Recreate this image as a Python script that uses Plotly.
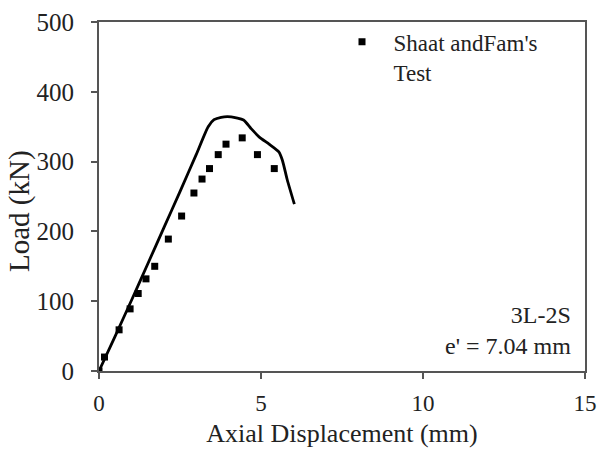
import plotly.graph_objects as go

# Test data (Shaat and Fam)
test_x = [0.0, 0.17, 0.62, 0.96, 1.21, 1.45, 1.72, 2.14, 2.55, 2.93, 3.18, 3.41, 3.68, 3.92, 4.42, 4.89, 5.41]
test_y = [0, 20, 59, 89, 111, 132, 150, 189, 222, 255, 275, 290, 310, 325, 334, 310, 290]

# Model curve
model_x = [0.0, 0.5, 1.0, 1.5, 2.0, 2.5, 3.0, 3.37, 3.55, 3.77, 4.08, 4.46, 4.69, 4.94, 5.25, 5.55, 5.66, 5.81, 6.03]
model_y = [0, 50, 101, 153, 205, 257, 310, 350, 360, 363.5, 364, 359.5, 347.5, 335.5, 325, 314, 302, 274, 239]

x_ticks = [0, 5, 10, 15]
y_ticks = [0, 100, 200, 300, 400, 500]

FONT = "Liberation Serif"
NB = "\u00a0\u00a0"

L, R, T, B = 99, 12, 22, 84
PW = 597 - L - R
PH = 455 - T - B

fig = go.Figure()
fig.add_trace(go.Scatter(
    x=model_x, y=model_y, mode="lines",
    line=dict(color="black", width=2.8, shape="spline", smoothing=0.6),
    showlegend=False,
))
fig.add_trace(go.Scatter(
    x=test_x, y=test_y, mode="markers",
    marker=dict(symbol="square", size=7, color="black"),
    name=NB + "Shaat andFam's<br>" + NB + "Test",
))

fig.update_layout(
    width=597, height=455,
    margin=dict(l=L, r=R, t=T, b=B),
    paper_bgcolor="white", plot_bgcolor="white",
    font=dict(family=FONT, size=22, color="#222"),
    legend=dict(x=(342 - L) / PW, y=1.005, xanchor="left", yanchor="top", valign="top",
                bgcolor="rgba(0,0,0,0)", font=dict(family=FONT, size=23, color="#222"),
                tracegroupgap=0),
    xaxis=dict(range=[0, 15], tickvals=x_ticks, ticks="outside", ticklen=6,
               tickcolor="#555", tickwidth=2, automargin=False,
               showline=True, linecolor="#555", linewidth=2, mirror=True,
               showgrid=False, zeroline=False, ticklabeloverflow="allow",
               ticklabelstandoff=4,
               title=dict(text="Axial Displacement (mm)", font=dict(size=26), standoff=9),
               tickfont=dict(size=23)),
    yaxis=dict(range=[0, 500], tickvals=y_ticks, ticks="outside", ticklen=6,
               tickcolor="#555", tickwidth=2, automargin=False,
               showline=True, linecolor="#555", linewidth=2, mirror=True,
               showgrid=False, zeroline=False, ticklabelstandoff=12,
               tickfont=dict(size=25)),
    annotations=[
        dict(x=0.965 * 491 / PW, y=0.03, xref="paper", yref="paper",
             xanchor="right", yanchor="bottom",
             text="3L-2S<br>e' = 7.04 mm", align="right", showarrow=False,
             font=dict(family=FONT, size=24, color="#222")),
        dict(x=(19 - L) / PW, y=(455 - B - 211) / PH, xref="paper", yref="paper",
             xanchor="center", yanchor="middle", textangle=-90,
             text="Load (kN)", showarrow=False,
             font=dict(family=FONT, size=29, color="#222")),
    ],
)

fig.write_html("out.html")
